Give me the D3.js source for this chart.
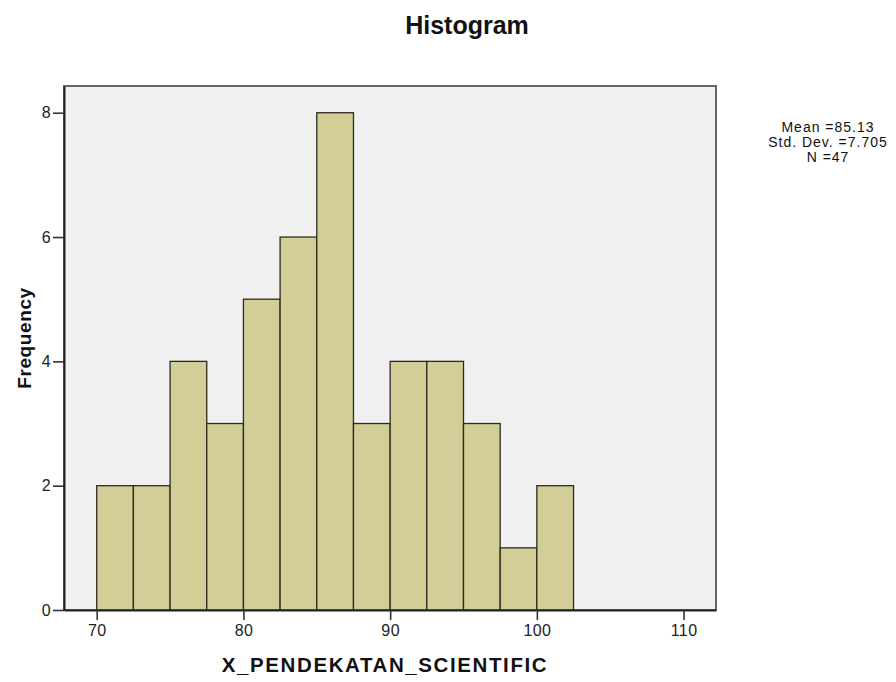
<!DOCTYPE html>
<html>
<head>
<meta charset="utf-8">
<script src="https://d3js.org/d3.v7.min.js"></script>
<style>
  body { margin: 0; background: #fff; }
  text { font-family: "Liberation Sans", Arial, sans-serif; }
</style>
</head>
<body>
<script>
var svgWidth = 896;
var svgHeight = 682;
var margin = {top: 86, right: 180, bottom: 72, left: 64};
var width = 716 - margin.left;
var height = 610 - margin.top;

// histogram bins (lower edges, width 2.5) and counts
var binStarts = [70, 72.5, 75, 77.5, 80, 82.5, 85, 87.5, 90, 92.5, 95, 97.5, 100];
var binWidth = 2.5;
var counts = [2, 2, 4, 3, 5, 6, 8, 3, 4, 4, 3, 1, 2];
var xTicks = [70, 80, 90, 100, 110];
var yTicks = [0, 2, 4, 6, 8];
var statsLines = ["Mean =85.13", "Std. Dev. =7.705", "N =47"];

var data = binStarts.map((d, i) => ({x0: d, x1: d + binWidth, n: counts[i]}));

var svg = d3.select("body")
            .append("svg")
            .attr("width", svgWidth)
            .attr("height", svgHeight);

var chartGroup = svg.append("g")
                    .attr("transform", `translate(${margin.left}, ${margin.top})`);

var x = d3.scaleLinear().domain([67.77, 112.21]).range([0, width]);
var y = d3.scaleLinear().domain([0, 8.43]).range([height, 0]);

// plot background + grey frame
chartGroup.append("rect")
          .attr("width", width)
          .attr("height", height)
          .attr("fill", "#f0f0f0")
          .attr("stroke", "#666")
          .attr("stroke-width", 2);

// bars
chartGroup.selectAll("rect.bar")
          .data(data)
          .enter()
          .append("rect")
          .classed("bar", true)
          .attr("x", d => x(d.x0))
          .attr("y", d => y(d.n))
          .attr("width", d => x(d.x1) - x(d.x0))
          .attr("height", d => y(0) - y(d.n))
          .attr("fill", "#d3ce98")
          .attr("stroke", "#2b2b20")
          .attr("stroke-width", 1.3);

// axes
var xAxis = chartGroup.append("g")
                      .attr("transform", `translate(0, ${height})`)
                      .call(d3.axisBottom(x).tickValues(xTicks).tickSizeInner(10).tickSizeOuter(0)
                              .tickPadding(5).tickFormat(d3.format("d")));
var yAxis = chartGroup.append("g")
                      .call(d3.axisLeft(y).tickValues(yTicks).tickSizeInner(11).tickSizeOuter(0)
                              .tickPadding(2).tickFormat(d3.format("d")));

[xAxis, yAxis].forEach(function(a) {
  a.select(".domain").attr("stroke", "#222").attr("stroke-width", 2);
  a.selectAll(".tick line").attr("stroke", "#333").attr("stroke-width", 1.6);
  a.selectAll(".tick text")
   .attr("fill", "#222")
   .style("font-size", "16px")
   .style("letter-spacing", "0.4px")
   .style("font-family", "Liberation Sans, Arial, sans-serif");
});

// title
svg.append("text")
   .attr("x", 467)
   .attr("y", 34)
   .attr("text-anchor", "middle")
   .style("font-size", "25px")
   .style("font-weight", "bold")
   .attr("fill", "#111")
   .text("Histogram");

// x label
svg.append("text")
   .attr("x", 385)
   .attr("y", 672)
   .attr("text-anchor", "middle")
   .style("font-size", "20.5px")
   .style("font-weight", "bold")
   .style("letter-spacing", "1.6px")
   .attr("fill", "#111")
   .text("X_PENDEKATAN_SCIENTIFIC");

// y label
svg.append("text")
   .attr("transform", "rotate(-90)")
   .attr("x", -338)
   .attr("y", 31)
   .attr("text-anchor", "middle")
   .style("font-size", "19px")
   .style("font-weight", "bold")
   .style("letter-spacing", "0.6px")
   .attr("fill", "#111")
   .text("Frequency");

// stats
svg.append("g")
   .selectAll("text")
   .data(statsLines)
   .enter()
   .append("text")
   .attr("x", 828)
   .attr("y", (d, i) => 132 + i * 15)
   .attr("text-anchor", "middle")
   .style("font-size", "14px")
   .style("letter-spacing", "1px")
   .attr("fill", "#111")
   .text(d => d);
</script>
</body>
</html>
